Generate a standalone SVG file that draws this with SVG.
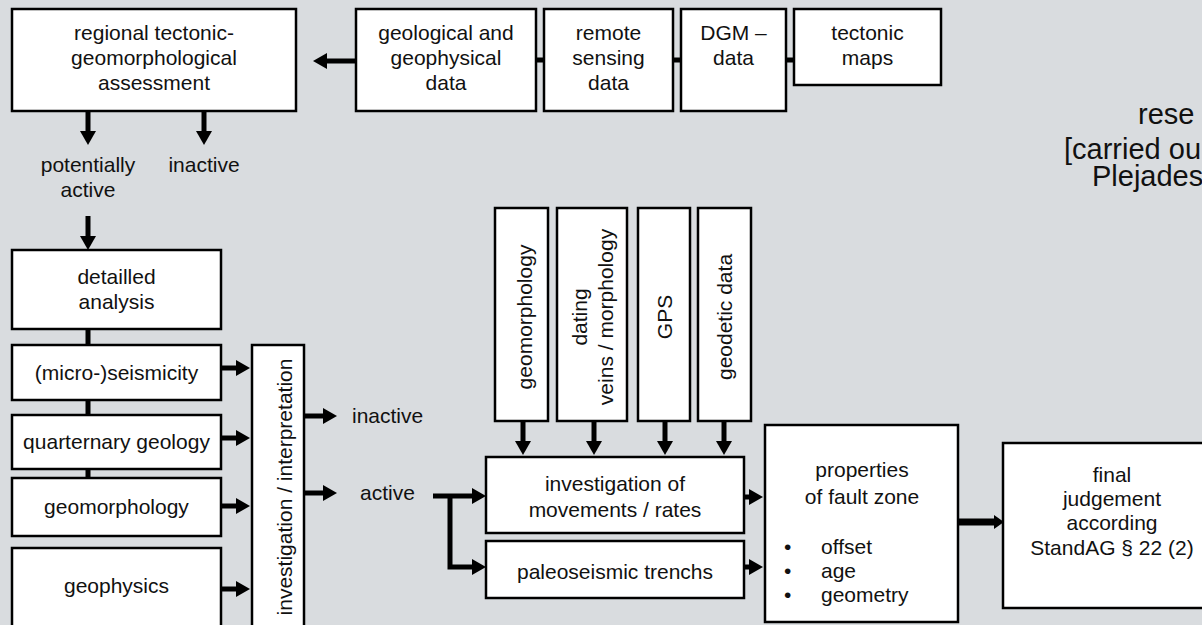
<svg xmlns="http://www.w3.org/2000/svg" width="1202" height="625" viewBox="0 0 1202 625">
<defs>
<style>
.bx{fill:#fff;stroke:#000;stroke-width:2.5}
.t{font-family:"Liberation Sans",Arial,sans-serif;font-size:21px;fill:#111;text-anchor:middle}
.tl{font-family:"Liberation Sans",Arial,sans-serif;font-size:21px;fill:#111}
.big{font-family:"Liberation Sans",Arial,sans-serif;font-size:29px;fill:#111}
.c{fill:none;stroke:#000;stroke-width:5}
.a{fill:none;stroke:#000;stroke-width:5;marker-end:url(#ah)}
</style>
<marker id="ah" viewBox="0 0 14 16" refX="6" refY="8" markerWidth="14" markerHeight="16" markerUnits="userSpaceOnUse" orient="auto">
<path d="M0,0 L14,8 L0,16 z" fill="#000"/>
</marker>
<marker id="ah2" viewBox="0 0 10 14" refX="3" refY="7" markerWidth="10" markerHeight="14" markerUnits="userSpaceOnUse" orient="auto">
<path d="M0,0 L10,7 L0,14 z" fill="#000"/>
</marker>
</defs>
<rect x="0" y="0" width="1202" height="625" fill="#d9dcdf"/>

<g id="connectors">
<path class="a" d="M356,61 H321"/>
<path class="c" d="M536,60 H544 M673,60 H681 M786,60 H794"/>
<path class="a" d="M88,111 V137"/>
<path class="a" d="M204,111 V137"/>
<path class="a" d="M88,216 V242"/>
<path class="c" d="M88,329 V345 M88,400 V415 M88,469 V478"/>
<path class="a" d="M222,368 H242"/>
<path class="a" d="M222,438 H242"/>
<path class="a" d="M222,506 H242"/>
<path class="a" d="M222,589 H242"/>
<path class="a" d="M305,416 H329"/>
<path class="a" d="M305,493 H329"/>
<path class="a" d="M433,496 H478"/>
<path class="a" d="M450,494 V567 H478"/>
<path class="a" d="M523,421 V447"/>
<path class="a" d="M594,421 V447"/>
<path class="a" d="M665,421 V447"/>
<path class="a" d="M724,421 V447"/>
<path class="a" d="M745,497 H755"/>
<path class="a" d="M745,567 H755"/>
<path d="M959,522 H997" fill="none" stroke="#000" stroke-width="7" marker-end="url(#ah2)"/>
</g>

<g id="regional">
<rect class="bx" x="12" y="9" width="284" height="102"/>
<text class="t" x="154" y="40">regional tectonic-</text>
<text class="t" x="154" y="65">geomorphological</text>
<text class="t" x="154" y="90">assessment</text>
</g>
<g id="geodata">
<rect class="bx" x="356" y="9" width="180" height="102"/>
<text class="t" x="446" y="40">geological and</text>
<text class="t" x="446" y="65">geophysical</text>
<text class="t" x="446" y="90">data</text>
</g>
<g id="remote">
<rect class="bx" x="544" y="9" width="129" height="102"/>
<text class="t" x="608.5" y="40">remote</text>
<text class="t" x="608.5" y="65">sensing</text>
<text class="t" x="608.5" y="90">data</text>
</g>
<g id="dgm">
<rect class="bx" x="681" y="9" width="105" height="102"/>
<text class="t" x="733.5" y="40">DGM –</text>
<text class="t" x="733.5" y="65">data</text>
</g>
<g id="tectonic">
<rect class="bx" x="794" y="9" width="147" height="76"/>
<text class="t" x="867.5" y="40">tectonic</text>
<text class="t" x="867.5" y="65">maps</text>
</g>

<g id="labels1">
<text class="t" x="88" y="172">potentially</text>
<text class="t" x="88" y="197">active</text>
<text class="t" x="204" y="172">inactive</text>
</g>

<g id="research">
<text class="big" x="1138" y="124">rese</text>
<text class="big" x="1064" y="159">[carried ou</text>
<text class="big" x="1092" y="186">Plejades</text>
</g>

<g id="detailled">
<rect class="bx" x="12" y="250" width="209" height="79"/>
<text class="t" x="116.5" y="284">detailled</text>
<text class="t" x="116.5" y="309">analysis</text>
</g>
<g id="seismicity">
<rect class="bx" x="12" y="345" width="209" height="55"/>
<text class="t" x="116.5" y="380">(micro-)seismicity</text>
</g>
<g id="quarternary">
<rect class="bx" x="12" y="415" width="209" height="54"/>
<text class="t" x="116.5" y="449">quarternary geology</text>
</g>
<g id="geomorph1">
<rect class="bx" x="12" y="478" width="209" height="58"/>
<text class="t" x="116.5" y="514">geomorphology</text>
</g>
<g id="geophysics">
<rect class="bx" x="12" y="548" width="209" height="90"/>
<text class="t" x="116.5" y="593">geophysics</text>
</g>

<g id="investigation">
<rect class="bx" x="252" y="345" width="52" height="290"/>
<text class="t" transform="translate(292,487) rotate(-90)">investigation / interpretation</text>
</g>
<g id="labels2">
<text class="tl" x="352" y="423">inactive</text>
<text class="tl" x="360" y="500">active</text>
</g>

<g id="v-geomorph">
<rect class="bx" x="495" y="208" width="53" height="213"/>
<text class="t" transform="translate(532,317) rotate(-90)">geomorphology</text>
</g>
<g id="v-dating">
<rect class="bx" x="557" y="208" width="70" height="213"/>
<text class="t" transform="translate(587,317) rotate(-90)">dating</text>
<text class="t" transform="translate(613,317) rotate(-90)">veins / morphology</text>
</g>
<g id="v-gps">
<rect class="bx" x="638" y="208" width="52" height="213"/>
<text class="t" transform="translate(672,317) rotate(-90)">GPS</text>
</g>
<g id="v-geodetic">
<rect class="bx" x="698" y="208" width="53" height="213"/>
<text class="t" transform="translate(732,317) rotate(-90)">geodetic data</text>
</g>

<g id="movements">
<rect class="bx" x="486" y="457" width="258" height="76"/>
<text class="t" x="615" y="491">investigation of</text>
<text class="t" x="615" y="517">movements / rates</text>
</g>
<g id="trenchs">
<rect class="bx" x="486" y="541" width="258" height="57"/>
<text class="t" x="615" y="579">paleoseismic trenchs</text>
</g>

<g id="properties">
<rect class="bx" x="765" y="425" width="193" height="197"/>
<text class="t" x="862" y="477">properties</text>
<text class="t" x="862" y="504">of fault zone</text>
<text class="tl" x="784" y="554">•</text>
<text class="tl" x="821" y="554">offset</text>
<text class="tl" x="784" y="578">•</text>
<text class="tl" x="821" y="578">age</text>
<text class="tl" x="784" y="602">•</text>
<text class="tl" x="821" y="602">geometry</text>
</g>

<g id="final">
<rect class="bx" x="1003" y="443" width="230" height="165"/>
<text class="t" x="1112" y="482">final</text>
<text class="t" x="1112" y="506">judgement</text>
<text class="t" x="1112" y="530">according</text>
<text class="t" x="1112" y="555">StandAG § 22 (2)</text>
</g>
</svg>
